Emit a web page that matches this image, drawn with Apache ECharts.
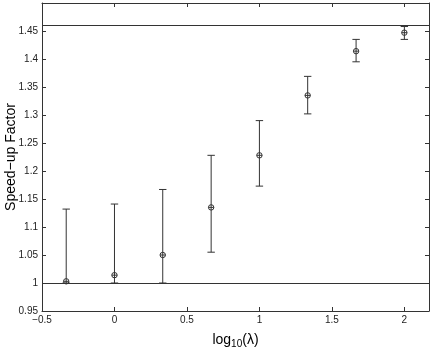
<!DOCTYPE html>
<html>
<head>
<meta charset="utf-8">
<script src="https://cdn.jsdelivr.net/npm/echarts@6/dist/echarts.min.js"></script>
<style>
  html, body { margin: 0; padding: 0; background: #fff; }
  #chart { width: 436px; height: 354px; }
</style>
</head>
<body>
<div id="chart"></div>
<script>
// log10(lambda) positions
const lambdaLog = [-0.333, 0, 0.333, 0.667, 1, 1.333, 1.667, 2];
// mean speed-up and error bar bounds
const speedUp = [1.003, 1.014, 1.050, 1.135, 1.228, 1.335, 1.414, 1.447];
const upperBound = [1.132, 1.141, 1.167, 1.228, 1.290, 1.369, 1.435, 1.458];
const lowerBound = [1.000, 1.000, 1.000, 1.055, 1.173, 1.302, 1.395, 1.435];
// reference lines
const refLines = [1, 1.46];

const font = 'Liberation Sans, Arial, sans-serif';
const ink = '#333';

const rows = lambdaLog.map((x, i) => [x, speedUp[i], lowerBound[i], upperBound[i]]);

function fmtTick(v) {
    return String(v).replace('-', '\u2212');
}

const chart = echarts.init(document.getElementById('chart'));

const option = {
    animation: false,
    backgroundColor: '#fff',
    grid: { left: 42, top: 3, right: 7, bottom: 43, containLabel: false, outerBoundsMode: 'none' },
    xAxis: [
        {
            type: 'value', min: -0.5, max: 2.17, interval: 0.5,
            name: '{a|log}{s|10}{a|(\u03bb)}',
            nameLocation: 'middle', nameGap: 20, nameMoveOverlap: false,
            nameTextStyle: {
                rich: {
                    a: { fontFamily: font, fontSize: 14, color: '#000' },
                    s: { fontFamily: font, fontSize: 10, color: '#000', verticalAlign: 'bottom', padding: [8, 0, 0, 0] }
                }
            },
            axisLine: { show: true, onZero: false, lineStyle: { color: ink } },
            axisTick: { inside: true, length: 4, lineStyle: { color: ink } },
            axisLabel: {
                fontFamily: font, fontSize: 10, color: '#222', margin: 4,
                formatter: v => (Math.abs(v * 2 - Math.round(v * 2)) < 1e-6 ? fmtTick(v) : '')
            },
            splitLine: { show: false }
        },
        {
            type: 'value', position: 'top', min: -0.5, max: 2.17, interval: 0.5,
            axisLine: { show: true, onZero: false, lineStyle: { color: ink } },
            axisTick: { inside: true, length: 4, lineStyle: { color: ink } },
            axisLabel: { show: false },
            splitLine: { show: false }
        }
    ],
    yAxis: [
        {
            type: 'value', min: 0.95, max: 1.5, interval: 0.05,
            name: 'Speed\u2212up Factor',
            nameLocation: 'middle', nameGap: 24, nameRotate: 90, nameMoveOverlap: false,
            nameTextStyle: { fontFamily: font, fontSize: 14, color: '#000' },
            axisLine: { show: true, onZero: false, lineStyle: { color: ink } },
            axisTick: { inside: true, length: 4, lineStyle: { color: ink } },
            axisLabel: {
                fontFamily: font, fontSize: 10, color: '#222', margin: 4,
                formatter: v => (v > 1.47 ? '' : fmtTick(+v.toFixed(2)))
            },
            splitLine: { show: false }
        },
        {
            type: 'value', position: 'right', min: 0.95, max: 1.5, interval: 0.05,
            axisLine: { show: true, onZero: false, lineStyle: { color: ink } },
            axisTick: { inside: true, length: 4, lineStyle: { color: ink } },
            axisLabel: { show: false },
            splitLine: { show: false }
        }
    ],
    series: [
        {
            type: 'line',
            data: [],
            markLine: {
                silent: true,
                symbol: 'none',
                label: { show: false },
                lineStyle: { color: ink, width: 1, type: 'solid' },
                data: refLines.map(v => ({ yAxis: v }))
            }
        },
        {
            type: 'custom',
            data: rows,
            renderItem: function (params, api) {
                const x = api.value(0);
                const c = api.coord([x, api.value(1)]);
                const lo = api.coord([x, api.value(2)]);
                const hi = api.coord([x, api.value(3)]);
                const cap = 3.7;
                const r = 2.7;
                const style = { stroke: ink, lineWidth: 1, fill: null };
                return {
                    type: 'group',
                    children: [
                        { type: 'line', shape: { x1: c[0], y1: lo[1], x2: c[0], y2: hi[1] }, style: style },
                        { type: 'line', shape: { x1: c[0] - cap, y1: lo[1], x2: c[0] + cap, y2: lo[1] }, style: style },
                        { type: 'line', shape: { x1: c[0] - cap, y1: hi[1], x2: c[0] + cap, y2: hi[1] }, style: style },
                        { type: 'circle', shape: { cx: c[0], cy: c[1], r: r }, style: { stroke: ink, lineWidth: 1, fill: 'none' } },
                        { type: 'line', shape: { x1: c[0] - r, y1: c[1], x2: c[0] + r, y2: c[1] }, style: style }
                    ]
                };
            }
        }
    ]
};

chart.setOption(option);
</script>
</body>
</html>
